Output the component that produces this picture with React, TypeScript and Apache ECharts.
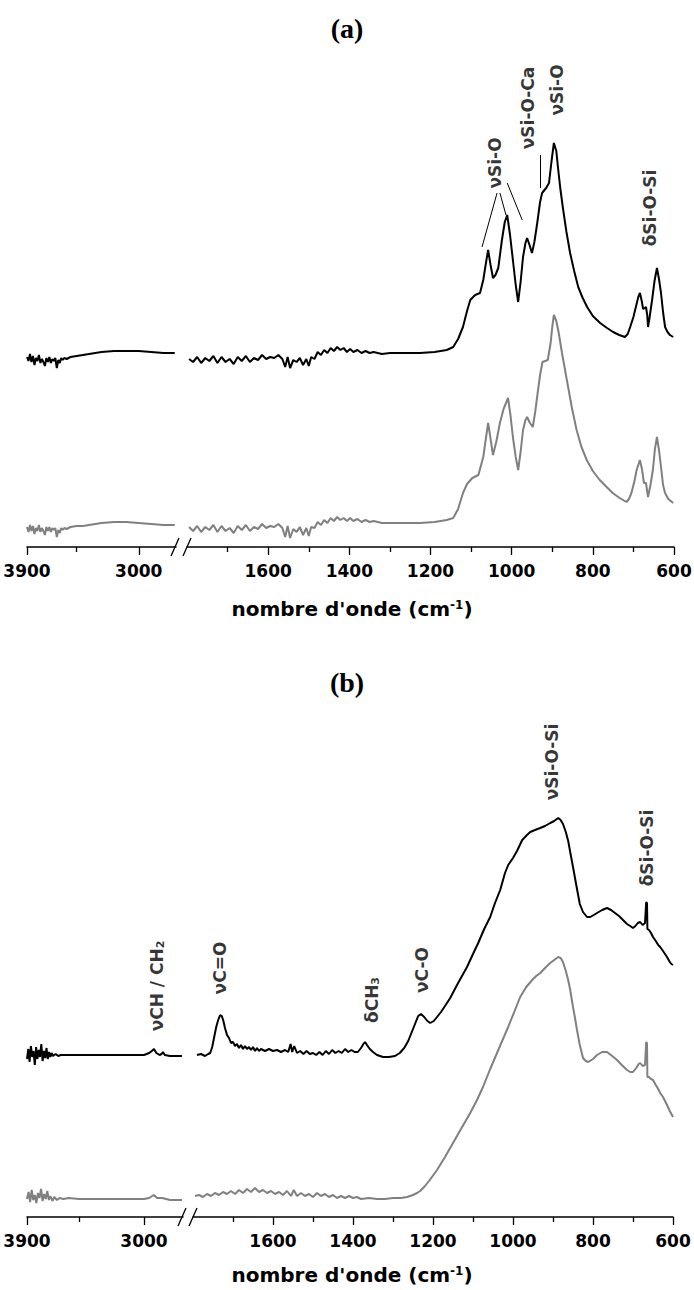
import React, { useEffect, useRef } from "react";
import * as echarts from "echarts";

// ---------- data (wavenumber cm-1, absorbance a.u. with vertical offset) ----------
// Panel (a)
const aBlackHigh: number[][] = [
  [3900,1.90],[3888,1.86],[3876,1.93],[3864,1.85],[3852,1.91],[3840,1.82],[3828,1.89],[3816,1.86],[3804,1.92],[3792,1.84],
  [3780,1.88],[3768,1.85],[3756,1.81],[3744,1.89],[3732,1.85],[3720,1.90],[3708,1.84],[3696,1.88],[3684,1.86],[3672,1.89],
  [3660,1.79],[3648,1.87],[3636,1.84],[3624,1.89],[3612,1.87],[3600,1.89],[3580,1.88],[3550,1.90],[3500,1.91],[3450,1.92],
  [3400,1.93],[3300,1.95],[3200,1.96],[3100,1.96],[3000,1.96],[2900,1.95],[2800,1.94],[2710,1.94]
];
const aBlackLow: number[][] = [
  [1795,1.88],[1785,1.85],[1775,1.90],[1765,1.84],[1755,1.89],[1745,1.86],[1735,1.91],[1725,1.84],[1715,1.90],[1705,1.85],
  [1695,1.88],[1685,1.83],[1675,1.90],[1665,1.86],[1655,1.91],[1645,1.85],[1635,1.89],[1625,1.87],[1615,1.92],[1605,1.88],
  [1595,1.90],[1585,1.89],[1575,1.92],[1565,1.88],[1558,1.80],[1552,1.90],[1546,1.79],[1538,1.87],[1530,1.85],[1522,1.89],
  [1514,1.82],[1506,1.88],[1500,1.81],[1494,1.90],[1486,1.88],[1478,1.95],[1470,1.92],[1462,1.97],[1454,1.94],[1446,1.99],
  [1438,1.96],[1430,2.00],[1422,1.97],[1414,1.99],[1406,1.95],[1398,1.98],[1390,1.95],[1380,1.97],[1370,1.94],[1360,1.96],
  [1350,1.94],[1340,1.95],[1320,1.93],[1300,1.94],[1260,1.94],[1226,1.94],[1190,1.95],[1160,1.97],[1144,2.00],[1132,2.08],
  [1120,2.20],[1110,2.36],[1102,2.47],[1090,2.52],[1078,2.54],[1070,2.67],[1063,2.85],[1058,2.97],[1052,2.82],[1046,2.69],
  [1040,2.72],[1033,2.79],[1024,3.07],[1017,3.25],[1011,3.32],[1004,3.12],[997,2.87],[990,2.62],[984,2.45],[978,2.65],
  [972,2.90],[966,3.04],[962,3.09],[956,3.02],[950,2.94],[944,3.05],[937,3.24],[930,3.45],[925,3.54],[915,3.59],
  [908,3.64],[902,3.85],[896,4.04],[890,3.96],[886,3.80],[880,3.58],[873,3.37],[865,3.15],[856,2.94],[846,2.76],
  [836,2.60],[825,2.49],[814,2.40],[800,2.31],[782,2.24],[765,2.19],[750,2.15],[735,2.12],[721,2.10],[714,2.13],
  [708,2.20],[700,2.30],[694,2.40],[688,2.50],[684,2.54],[680,2.47],[676,2.38],[672,2.39],[669,2.40],[666,2.32],
  [664,2.20],[660,2.30],[654,2.47],[648,2.66],[642,2.79],[637,2.68],[632,2.54],[627,2.35],[622,2.20],[616,2.15],
  [610,2.12],[602,2.10]
];
const aGrayHigh: number[][] = [
  [3900,0.20],[3888,0.15],[3876,0.22],[3864,0.16],[3852,0.21],[3840,0.13],[3828,0.19],[3816,0.16],[3804,0.22],[3792,0.15],
  [3780,0.19],[3768,0.16],[3756,0.12],[3744,0.20],[3732,0.16],[3720,0.20],[3708,0.15],[3696,0.19],[3684,0.17],[3672,0.19],
  [3660,0.10],[3648,0.17],[3636,0.14],[3624,0.19],[3612,0.17],[3600,0.19],[3580,0.18],[3550,0.20],[3500,0.21],[3450,0.21],
  [3400,0.22],[3300,0.24],[3200,0.25],[3100,0.25],[3000,0.24],[2900,0.23],[2800,0.22],[2710,0.22]
];
const aGrayLow: number[][] = [
  [1795,0.20],[1785,0.16],[1775,0.21],[1765,0.15],[1755,0.20],[1745,0.17],[1735,0.22],[1725,0.15],[1715,0.21],[1705,0.16],
  [1695,0.19],[1685,0.14],[1675,0.21],[1665,0.17],[1655,0.22],[1645,0.16],[1635,0.20],[1625,0.18],[1615,0.23],[1605,0.19],
  [1595,0.21],[1585,0.20],[1575,0.23],[1565,0.19],[1558,0.10],[1552,0.21],[1546,0.09],[1538,0.18],[1530,0.15],[1522,0.20],
  [1514,0.12],[1506,0.19],[1500,0.11],[1494,0.20],[1486,0.19],[1478,0.25],[1470,0.22],[1462,0.27],[1454,0.24],[1446,0.29],
  [1438,0.26],[1430,0.30],[1422,0.27],[1414,0.29],[1406,0.26],[1398,0.29],[1390,0.26],[1380,0.28],[1370,0.25],[1360,0.27],
  [1350,0.25],[1340,0.26],[1320,0.24],[1300,0.24],[1260,0.24],[1226,0.24],[1190,0.25],[1160,0.27],[1144,0.29],[1132,0.38],
  [1120,0.54],[1110,0.63],[1097,0.69],[1082,0.72],[1070,0.90],[1063,1.10],[1058,1.24],[1052,1.08],[1046,0.92],[1038,1.05],
  [1029,1.24],[1020,1.38],[1009,1.49],[1003,1.32],[997,1.10],[990,0.90],[984,0.77],[978,0.95],[972,1.17],[966,1.27],
  [962,1.30],[955,1.24],[948,1.20],[942,1.35],[936,1.54],[930,1.72],[924,1.85],[911,1.87],[904,2.04],[900,2.20],
  [896,2.32],[890,2.26],[884,2.14],[876,1.94],[864,1.67],[852,1.40],[840,1.17],[828,1.00],[815,0.87],[800,0.76],
  [783,0.67],[766,0.60],[751,0.54],[734,0.49],[717,0.45],[711,0.48],[705,0.54],[698,0.65],[692,0.77],[684,0.87],
  [679,0.78],[674,0.64],[669,0.64],[664,0.50],[658,0.62],[652,0.77],[647,0.98],[642,1.10],[637,0.97],[632,0.80],
  [627,0.62],[622,0.54],[614,0.48],[602,0.44]
];

// Panel (b)
const bBlackHigh: number[][] = [
  [3900,1.58],[3890,1.68],[3880,1.55],[3870,1.71],[3860,1.60],[3850,1.66],[3840,1.52],[3830,1.70],[3820,1.58],[3810,1.67],
  [3800,1.60],[3790,1.73],[3780,1.56],[3770,1.66],[3760,1.59],[3750,1.69],[3740,1.58],[3730,1.65],[3720,1.60],[3710,1.64],
  [3700,1.61],[3680,1.63],[3660,1.61],[3640,1.62],[3600,1.62],[3500,1.62],[3300,1.62],[3100,1.62],[3000,1.62],[2960,1.64],
  [2940,1.66],[2923,1.68],[2905,1.64],[2880,1.62],[2865,1.63],[2854,1.65],[2840,1.62],[2800,1.61],[2750,1.61],[2708,1.61]
];
const bBlackLow: number[][] = [
  [1790,1.62],[1780,1.63],[1770,1.61],[1762,1.63],[1757,1.64],[1752,1.70],[1747,1.80],[1742,1.90],[1737,1.97],[1732,2.02],
  [1728,2.01],[1724,1.96],[1720,1.89],[1715,1.82],[1710,1.79],[1705,1.74],[1700,1.75],[1695,1.71],[1690,1.73],[1685,1.69],
  [1680,1.72],[1675,1.68],[1670,1.71],[1665,1.68],[1660,1.70],[1655,1.67],[1650,1.70],[1645,1.66],[1640,1.69],[1635,1.66],
  [1630,1.68],[1620,1.66],[1610,1.68],[1600,1.66],[1590,1.67],[1580,1.65],[1570,1.67],[1562,1.65],[1556,1.73],[1552,1.65],
  [1547,1.71],[1540,1.64],[1532,1.66],[1524,1.63],[1516,1.66],[1508,1.63],[1500,1.64],[1492,1.62],[1484,1.65],[1476,1.62],
  [1468,1.66],[1460,1.63],[1452,1.67],[1444,1.64],[1436,1.66],[1428,1.64],[1420,1.68],[1412,1.65],[1404,1.67],[1396,1.65],
  [1388,1.65],[1380,1.69],[1374,1.73],[1370,1.75],[1365,1.72],[1358,1.68],[1350,1.65],[1340,1.62],[1325,1.60],[1310,1.60],
  [1295,1.61],[1283,1.64],[1272,1.69],[1262,1.76],[1252,1.86],[1244,1.94],[1237,2.01],[1230,2.03],[1222,2.00],[1214,1.96],
  [1207,1.94],[1198,1.96],[1190,2.00],[1180,2.05],[1170,2.11],[1157,2.19],[1140,2.32],[1115,2.50],[1100,2.63],[1087,2.74],
  [1072,2.88],[1057,3.00],[1045,3.14],[1032,3.27],[1020,3.44],[1012,3.52],[1000,3.59],[990,3.66],[977,3.77],[965,3.82],
  [957,3.85],[945,3.87],[932,3.89],[920,3.91],[907,3.94],[897,3.96],[887,3.99],[881,3.97],[875,3.93],[868,3.85],
  [862,3.76],[857,3.65],[850,3.50],[845,3.39],[840,3.28],[833,3.13],[825,3.05],[815,3.00],[807,3.00],[798,3.02],
  [790,3.04],[777,3.07],[765,3.09],[755,3.07],[745,3.04],[735,3.01],[725,2.97],[715,2.93],[707,2.91],[700,2.89],
  [694,2.91],[688,2.94],[682,2.95],[676,2.92],[670,2.94],[667,3.15],[665,3.14],[664,2.88],[660,2.87],[655,2.84],
  [650,2.80],[643,2.76],[637,2.72],[632,2.70],[625,2.66],[620,2.63],[615,2.60],[608,2.55],[604,2.53],[600,2.52]
];
const bGrayHigh: number[][] = [
  [3900,0.18],[3888,0.25],[3876,0.15],[3864,0.27],[3852,0.17],[3840,0.22],[3828,0.14],[3816,0.24],[3804,0.19],[3792,0.28],
  [3780,0.16],[3768,0.23],[3756,0.18],[3744,0.26],[3732,0.17],[3720,0.21],[3705,0.16],[3690,0.20],[3670,0.17],[3650,0.19],
  [3620,0.18],[3580,0.19],[3500,0.18],[3400,0.18],[3200,0.18],[3000,0.18],[2960,0.19],[2925,0.22],[2900,0.19],[2860,0.19],
  [2800,0.17],[2708,0.17]
];
const bGrayLow: number[][] = [
  [1795,0.21],[1785,0.22],[1775,0.20],[1765,0.23],[1755,0.21],[1745,0.24],[1735,0.22],[1725,0.25],[1715,0.23],[1705,0.26],
  [1695,0.23],[1685,0.27],[1675,0.24],[1665,0.28],[1655,0.25],[1645,0.29],[1635,0.25],[1625,0.27],[1615,0.24],[1605,0.26],
  [1595,0.23],[1585,0.25],[1575,0.22],[1565,0.26],[1555,0.21],[1548,0.27],[1540,0.21],[1530,0.24],[1520,0.21],[1510,0.23],
  [1500,0.20],[1490,0.24],[1480,0.21],[1470,0.23],[1460,0.20],[1450,0.22],[1440,0.19],[1430,0.21],[1420,0.19],[1410,0.21],
  [1400,0.19],[1390,0.20],[1380,0.18],[1360,0.19],[1340,0.18],[1320,0.18],[1300,0.19],[1280,0.19],[1265,0.20],[1250,0.22],
  [1240,0.24],[1232,0.26],[1220,0.31],[1210,0.36],[1190,0.47],[1170,0.60],[1150,0.74],[1130,0.88],[1107,1.04],[1090,1.17],
  [1075,1.30],[1058,1.47],[1040,1.64],[1025,1.78],[1012,1.90],[997,2.05],[982,2.20],[967,2.30],[952,2.37],[942,2.41],
  [932,2.44],[920,2.49],[907,2.54],[897,2.57],[887,2.60],[881,2.59],[875,2.55],[868,2.46],[862,2.37],[857,2.27],
  [850,2.10],[845,1.99],[840,1.87],[833,1.72],[825,1.59],[818,1.56],[812,1.55],[800,1.58],[790,1.62],[777,1.65],
  [765,1.65],[752,1.61],[740,1.57],[728,1.52],[715,1.47],[707,1.45],[700,1.45],[692,1.49],[686,1.53],[682,1.54],
  [676,1.51],[670,1.52],[667,1.75],[665,1.74],[664,1.40],[660,1.40],[655,1.38],[650,1.37],[643,1.32],[637,1.28],
  [632,1.24],[625,1.20],[620,1.16],[615,1.12],[608,1.06],[604,1.03],[600,1.00]
];

// axis ranges and ticks
const highRange = [2700, 3900];
const lowRange = [600, 1800];
const highTicks = [3900, 3000];
const highMinor = [3500];
const lowTicks = [1600, 1400, 1200, 1000, 800, 600];
const lowMinor = [1700, 1500, 1300, 1100, 900, 700];

// band annotations (text, wavenumber, height)
const annotA = [
  { text: "νSi-O", wn: 1041, y: 3.84 },
  { text: "νSi-O-Ca", wn: 960, y: 4.39 },
  { text: "νSi-O", wn: 888, y: 4.57 },
  { text: "δSi-O-Si", wn: 659, y: 3.39 },
];
const leadersA = [
  [[1073, 3.0], [1036, 3.54]],
  [[1014, 3.32], [1029, 3.54]],
  [[974, 3.27], [1011, 3.64]],
  [[930, 3.59], [930, 3.92]],
];
const annotBHigh = [{ text: "νCH / CH{sub|2}", wn: 2900, y: 2.31 }];
const annotBLow = [
  { text: "νC=O", wn: 1732, y: 2.49 },
  { text: "δCH{sub|3}", wn: 1352, y: 2.17 },
  { text: "νC-O", wn: 1228, y: 2.47 },
  { text: "νSi-O-Si", wn: 903, y: 4.55 },
  { text: "δSi-O-Si", wn: 665, y: 3.69 },
];

const FONT = "DejaVu Sans";
const BLACK = "#000000";
const GRAY = "#808080";

export default function App() {
  const ref = useRef<HTMLDivElement>(null);

  useEffect(() => {
    const el = ref.current;
    if (!el) return;
    const chart = echarts.init(el, null, { renderer: "svg" });

    const panels = [
      { top: 47, h: 500, hiL: 27, hiR: 176, loL: 187, loR: 674, title: "(a)", titleY: 28, xTitleY: 609 },
      { top: 717, h: 500, hiL: 27, hiR: 183, loL: 193, loR: 673, title: "(b)", titleY: 682, xTitleY: 1275 },
    ];

    const grids: any[] = [];
    const xAxes: any[] = [];
    const yAxes: any[] = [];
    const graphics: any[] = [];

    panels.forEach((p) => {
      grids.push({ left: p.hiL, top: p.top, width: p.hiR - p.hiL, height: p.h, containLabel: false, outerBoundsMode: "none" });
      grids.push({ left: p.loL, top: p.top, width: p.loR - p.loL, height: p.h, containLabel: false, outerBoundsMode: "none" });
    });

    // main axes 0..3, minor tick axes 4..7
    const segs = [
      { range: highRange, major: highTicks, minor: highMinor },
      { range: lowRange, major: lowTicks, minor: lowMinor },
      { range: highRange, major: highTicks, minor: highMinor },
      { range: lowRange, major: lowTicks, minor: lowMinor },
    ];
    segs.forEach((s, g) => {
      xAxes.push({
        type: "value", gridIndex: g, min: s.range[0], max: s.range[1], inverse: true, position: "bottom",
        axisLine: { show: true, onZero: false, lineStyle: { color: BLACK, width: 1.5 } },
        axisTick: { show: true, customValues: s.major, length: 8, inside: false, lineStyle: { color: BLACK, width: 1.3 } },
        axisLabel: {
          show: true, customValues: s.major, margin: 15, color: BLACK, fontFamily: FONT, fontWeight: "bold", fontSize: 17,
          formatter: (v: number) => String(v),
        },
        splitLine: { show: false },
      });
      yAxes.push({ type: "value", gridIndex: g, min: 0, max: 5, show: false, splitLine: { show: false } });
    });
    segs.forEach((s, g) => {
      xAxes.push({
        type: "value", gridIndex: g, min: s.range[0], max: s.range[1], inverse: true, position: "bottom",
        axisLine: { show: false, onZero: false },
        axisTick: { show: true, customValues: s.minor, length: 5, inside: false, lineStyle: { color: BLACK, width: 1.3 } },
        axisLabel: { show: false, customValues: s.minor },
        splitLine: { show: false },
      });
    });

    const lineSeries = (data: number[][], g: number, color: string) => ({
      type: "line", xAxisIndex: g, yAxisIndex: g, data, showSymbol: false, symbol: "none",
      lineStyle: { color, width: 2 }, silent: true, z: color === BLACK ? 3 : 2,
    });

    const labelStyle = {
      show: true, position: "inside", rotate: 90, color: BLACK, fontFamily: FONT, fontWeight: "bold", fontSize: 17,
      align: "center", verticalAlign: "middle",
      formatter: (pp: any) => pp.data.text,
      rich: {
        sub: { fontFamily: FONT, fontWeight: "bold", fontSize: 11, color: BLACK, verticalAlign: "bottom", padding: [7, 0, 0, 0] },
      },
    };
    const annotSeries = (list: any[], g: number) => ({
      type: "scatter", xAxisIndex: g, yAxisIndex: g, symbolSize: 1, silent: true,
      itemStyle: { color: "transparent" },
      data: list.map((a) => ({ value: [a.wn, a.y], text: a.text })),
      label: labelStyle,
      z: 5,
    });

    const series: any[] = [
      lineSeries(aGrayHigh, 0, GRAY),
      lineSeries(aBlackHigh, 0, BLACK),
      lineSeries(aGrayLow, 1, GRAY),
      lineSeries(aBlackLow, 1, BLACK),
      lineSeries(bGrayHigh, 2, GRAY),
      lineSeries(bBlackHigh, 2, BLACK),
      lineSeries(bGrayLow, 3, GRAY),
      lineSeries(bBlackLow, 3, BLACK),
      annotSeries(annotA, 1),
      annotSeries(annotBHigh, 2),
      annotSeries(annotBLow, 3),
      {
        type: "lines", coordinateSystem: "cartesian2d", xAxisIndex: 1, yAxisIndex: 1, silent: true,
        data: leadersA.map((c) => ({ coords: c })),
        lineStyle: { color: BLACK, width: 1, opacity: 1, curveness: 0 },
        symbol: ["none", "none"],
      },
    ];

    panels.forEach((p) => {
      const axisY = p.top + p.h;
      graphics.push({
        type: "text", x: 347, y: p.titleY,
        style: { text: p.title, fontFamily: "Liberation Serif", fontWeight: "bold", fontSize: 28, fill: BLACK, align: "center", verticalAlign: "middle" },
      });
      graphics.push({
        type: "text", x: 352, y: p.xTitleY,
        style: {
          text: "nombre d'onde (cm{sup|-1})", fontFamily: FONT, fontWeight: "bold", fontSize: 20, fill: BLACK,
          align: "center", verticalAlign: "middle",
          rich: { sup: { fontFamily: FONT, fontWeight: "bold", fontSize: 12, fill: BLACK, verticalAlign: "top", padding: [0, 0, 8, 0] } },
        },
      });
      // axis break marks
      [p.hiR - 1, p.loL].forEach((cx) => {
        graphics.push({
          type: "line",
          shape: { x1: cx - 4, y1: axisY + 9, x2: cx + 4, y2: axisY - 9 },
          style: { stroke: BLACK, lineWidth: 1.3 },
        });
      });
    });

    chart.setOption({
      animation: false,
      backgroundColor: "#ffffff",
      grid: grids,
      xAxis: xAxes,
      yAxis: yAxes,
      series,
      graphic: graphics,
    });

    return () => chart.dispose();
  }, []);

  return (
    <div
      ref={ref}
      style={{ position: "absolute", left: 0, top: 0, width: 694, height: 1290, background: "#fff" }}
    />
  );
}
